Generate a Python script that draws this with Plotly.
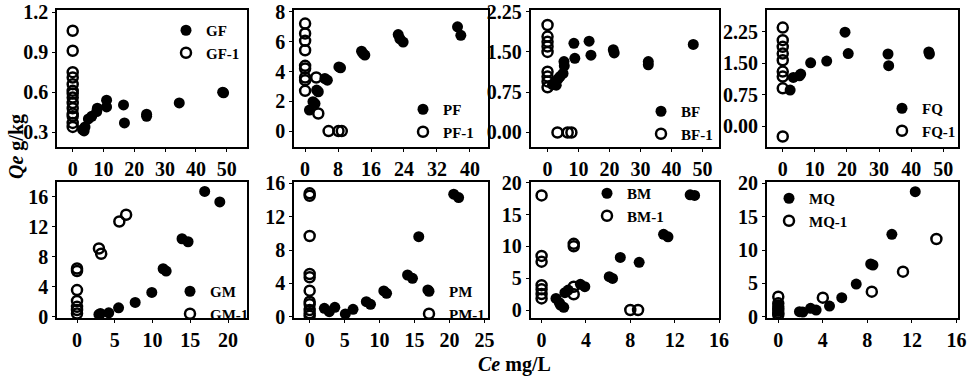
import plotly.graph_objects as go

# ---------------- data ----------------
gf_x = [3.2, 3.7, 4.0, 5.1, 6.2, 7.8, 8.0, 11.0, 11.0, 16.5, 16.8, 24.0, 24.0, 34.6, 48.7, 49.0]
gf_y = [0.32, 0.31, 0.34, 0.40, 0.42, 0.455, 0.48, 0.54, 0.49, 0.505, 0.37, 0.435, 0.42, 0.52, 0.60, 0.595]
gf1_x = [0, 0, 0, 0, 0, 0, 0, 0, 0, 0, 0, 0, 0, 0]
gf1_y = [1.06, 0.91, 0.75, 0.71, 0.66, 0.61, 0.59, 0.56, 0.52, 0.48, 0.44, 0.42, 0.37, 0.34]

pf_x = [1.05, 1.9, 2.4, 2.8, 3.2, 4.8, 5.4, 8.2, 8.6, 13.7, 14.1, 14.5, 22.6, 23.0, 23.8, 37.0, 37.8]
pf_y = [1.41, 1.97, 1.85, 2.75, 2.64, 3.53, 3.42, 4.31, 4.25, 5.36, 5.2, 5.1, 6.48, 6.2, 5.98, 7.0, 6.43]
pf1_x = [0, 0, 0, 0, 0, 0, 0, 0, 0, 2.7, 3.2, 5.7, 8.1, 8.9]
pf1_y = [7.22, 6.55, 6.06, 5.43, 4.38, 4.2, 3.6, 3.42, 2.7, 3.6, 1.18, 0.0, 0.0, 0.0]

bf_x = [1.6, 2.4, 2.8, 3.4, 4.0, 5.0, 5.3, 5.4, 8.5, 8.8, 13.4, 14.0, 21.2, 21.5, 32.5, 32.5, 47.0]
bf_y = [0.89, 0.92, 0.88, 1.0, 1.04, 1.1, 1.32, 1.24, 1.66, 1.38, 1.70, 1.44, 1.54, 1.48, 1.32, 1.26, 1.64]
bf1_x = [0, 0, 0, 0, 0, 0, 0, 0, 0, 3.2, 6.5, 7.7]
bf1_y = [2.0, 1.785, 1.69, 1.6, 1.5, 1.13, 1.04, 0.95, 0.84, 0.0, 0.0, 0.0]

fq_x = [2.3, 3.3, 5.2, 5.6, 8.7, 13.7, 19.4, 20.4, 32.8, 33.0, 45.5, 45.7]
fq_y = [0.86, 1.16, 1.2, 1.24, 1.51, 1.55, 2.24, 1.73, 1.72, 1.44, 1.77, 1.72]
fq1_x = [0, 0, 0, 0, 0, 0, 0, 0, 0]
fq1_y = [2.35, 2.05, 1.89, 1.73, 1.57, 1.30, 1.18, 0.9, -0.25]

gm_x = [2.9, 3.1, 4.2, 5.5, 7.7, 9.9, 11.4, 11.8, 13.9, 14.7, 16.9, 18.9]
gm_y = [0.31, 0.44, 0.53, 1.2, 1.91, 3.24, 6.4, 6.1, 10.4, 10.0, 16.7, 15.3]
gm1_x = [0, 0, 0, 0, 0, 0, 0, 2.9, 3.2, 5.6, 6.5]
gm1_y = [6.44, 6.1, 3.56, 2.1, 1.33, 0.9, 0.44, 9.1, 8.4, 12.7, 13.6]

pm_x = [2.1, 2.8, 3.6, 5.1, 6.2, 8.1, 8.7, 10.6, 11.0, 14.0, 14.7, 15.6, 16.9, 20.6, 21.3]
pm_y = [1.0, 0.6, 1.12, 0.32, 0.88, 1.8, 1.48, 3.08, 2.8, 5.0, 4.6, 9.6, 3.2, 14.7, 14.3]
pm1_x = [0, 0, 0, 0, 0, 0, 0, 0, 0, 0, 0]
pm1_y = [14.8, 14.5, 9.68, 5.12, 4.72, 3.12, 1.8, 1.48, 0.8, 0.4, 0.12]

bm_x = [1.3, 1.6, 1.7, 2.0, 2.1, 2.4, 3.5, 3.9, 6.1, 6.4, 7.1, 8.8, 11.0, 11.4, 13.4, 13.8]
bm_y = [1.83, 1.15, 0.79, 0.42, 2.72, 3.14, 4.03, 3.66, 5.24, 4.97, 8.27, 7.5, 11.9, 11.5, 18.1, 18.0]
bm1_x = [0, 0, 0, 0, 0, 0, 0, 2.9, 2.9, 2.9, 2.9, 8.0, 8.7]
bm1_y = [18.0, 8.5, 7.6, 3.9, 3.25, 2.5, 1.83, 10.4, 10.0, 3.66, 2.46, 0.0, 0.0]

mq_x = [0, 0, 0, 1.9, 2.2, 2.9, 3.4, 4.6, 5.7, 7.0, 8.3, 8.5, 10.2, 12.3]
mq_y = [0.8, 1.3, 1.8, 0.75, 0.7, 1.25, 1.0, 1.6, 2.85, 4.9, 7.9, 7.75, 12.35, 18.75]
mq1_x = [0, 0, 0, 0, 0, 0, 4.0, 8.4, 11.2, 14.2]
mq1_y = [3.0, 2.0, 1.5, 1.0, 0.6, 0.25, 2.85, 3.75, 6.75, 11.65]

names = ["GF", "PF", "BF", "FQ", "GM", "PM", "BM", "MQ"]
filled = [(gf_x, gf_y), (pf_x, pf_y), (bf_x, bf_y), (fq_x, fq_y),
          (gm_x, gm_y), (pm_x, pm_y), (bm_x, bm_y), (mq_x, mq_y)]
opened = [(gf1_x, gf1_y), (pf1_x, pf1_y), (bf1_x, bf1_y), (fq1_x, fq1_y),
          (gm1_x, gm1_y), (pm1_x, pm1_y), (bm1_x, bm1_y), (mq1_x, mq1_y)]

x_ranges = [[-5.1, 56.6], [-2.7, 44.4], [-5.5, 55.3], [-5.0, 54.6],
            [-2.65, 22.5], [-2.24, 25.5], [-1.0, 16.0], [-1.04, 16.14]]
y_ranges = [[0.19, 1.215], [-1.07, 8.13], [-0.27, 2.28], [-0.5, 2.77],
            [-0.2, 18.0], [-0.2, 16.2], [-1.3, 20.16], [-0.24, 20.24]]
x_dtick = [10, 8, 10, 10, 5, 5, 4, 4]
y_tickvals = [[0.3, 0.6, 0.9, 1.2], [0, 2, 4, 6, 8], [0, 0.75, 1.5, 2.25], [0, 0.75, 1.5, 2.25],
              [0, 4, 8, 12, 16], [0, 4, 8, 12, 16], [0, 5, 10, 15, 20], [0, 5, 10, 15, 20]]
y_ticktext = [["0.3", "0.6", "0.9", "1.2"], ["0", "2", "4", "6", "8"],
              ["0.00", "0.75", "1.50", "2.25"], ["0.00", "0.75", "1.50", "2.25"],
              ["0", "4", "8", "12", "16"], ["0", "4", "8", "12", "16"],
              ["0", "5", "10", "15", "20"], ["0", "5", "10", "15", "20"]]

# ---------------- layout geometry (pixels) ----------------
W, H = 969, 379
col_px = [(57, 247), (294, 488), (530.5, 719), (766.7, 958)]
row_px = [(10, 147), (181.7, 318.3)]
# legend top-left positions in pixels
legend_px = [(166, 14), (403, 93), (641, 95), (882, 92),
             (170, 275), (409, 275), (587, 177), (769, 182)]

FONT = "Liberation Serif"
fig = go.Figure()
layout = dict(width=W, height=H, margin=dict(l=0, r=0, t=0, b=0, autoexpand=False),
              paper_bgcolor="white", plot_bgcolor="white", showlegend=True)

for i in range(8):
    r, c = divmod(i, 4)
    ax = "" if i == 0 else str(i + 1)
    lg = "legend" if i == 0 else "legend%d" % (i + 1)
    fx, fy = filled[i]
    ox, oy = opened[i]
    fig.add_trace(go.Scatter(x=fx, y=fy, mode="markers", name=names[i],
                             xaxis="x" + ax, yaxis="y" + ax, legend=lg,
                             marker=dict(symbol="circle", size=11, color="black")))
    fig.add_trace(go.Scatter(x=ox, y=oy, mode="markers", name=names[i] + "-1",
                             xaxis="x" + ax, yaxis="y" + ax, legend=lg,
                             marker=dict(symbol="circle-open", size=10, color="black",
                                         line=dict(width=2.5, color="black"))))
    x0, x1 = col_px[c]
    y0, y1 = row_px[r]
    axis_common = dict(showline=True, linecolor="black", linewidth=1.5, mirror=True,
                       showgrid=False, zeroline=False, ticks="outside", ticklen=3,
                       tickcolor="black", tickwidth=1, automargin=False,
                       tickfont=dict(family=FONT, size=20, color="black", weight="bold"))
    layout["xaxis" + ax] = dict(axis_common, domain=[x0 / W, x1 / W], range=x_ranges[i],
                                dtick=x_dtick[i], tick0=0, anchor="y" + ax)
    layout["yaxis" + ax] = dict(axis_common, domain=[1 - y1 / H, 1 - y0 / H], range=y_ranges[i],
                                tickvals=y_tickvals[i], ticktext=y_ticktext[i], anchor="x" + ax)
    lx, ly = legend_px[i]
    layout[lg] = dict(x=lx / W, y=1 - ly / H, xanchor="left", yanchor="top",
                      bgcolor="rgba(0,0,0,0)", borderwidth=0, itemwidth=30,
                      tracegroupgap=0, itemsizing="trace",
                      font=dict(family=FONT, size=15, color="black", weight="bold"))

layout["annotations"] = [
    dict(text="<i>Qe</i> g/kg", x=16 / W, y=1 - 147 / H, xref="paper", yref="paper",
         showarrow=False, textangle=-90, xanchor="center", yanchor="middle",
         font=dict(family=FONT, size=20, color="black", weight="bold")),
    dict(text="<i>Ce</i> mg/L", x=514 / W, y=1 - 364 / H, xref="paper", yref="paper",
         showarrow=False, xanchor="center", yanchor="middle",
         font=dict(family=FONT, size=20, color="black", weight="bold")),
]
fig.update_layout(**layout)
fig.write_html("out.html", config={"displayModeBar": False},
               post_script="document.body.style.margin='0';document.body.style.overflow='hidden';")
